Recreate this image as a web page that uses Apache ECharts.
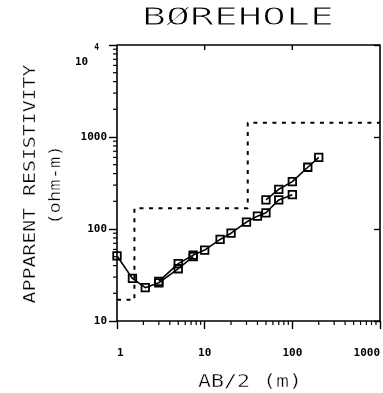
<!DOCTYPE html>
<html>
<head>
<meta charset="utf-8">
<script src="https://cdn.jsdelivr.net/npm/echarts@6/dist/echarts.min.js"></script>
<style>
  html, body { margin: 0; padding: 0; background: #fff; }
  #chart { width: 383px; height: 393px; }
</style>
</head>
<body>
<div id="chart"></div>
<script>
// Field sounding, apparent resistivity vs electrode half-spacing AB/2.
// Overlapping segments of the sounding curve.
const AB2_SEG1 = [1, 1.5, 2.1, 3, 5, 7.4];
const RHO_SEG1 = [51, 29, 23, 26, 37, 50];
const AB2_SEG2 = [3, 5, 7.4, 10, 15, 20, 30, 40, 50, 70, 100];
const RHO_SEG2 = [27, 42, 52, 59, 77, 90, 119, 138, 150, 207, 236];
const AB2_SEG3 = [50, 70, 100, 150, 200];
const RHO_SEG3 = [207, 270, 327, 469, 600];

// Layered-earth model (step curve): layer boundaries and resistivities.
const MODEL_AB2 = [1, 1.58, 1.58, 31, 31, 1000];
const MODEL_RHO = [17, 17, 168, 168, 1430, 1430];

// Axis ranges, decade ticks on the top edge and minor (log) tick positions.
const X_RANGE = [1, 1000];
const Y_RANGE = [10, 10000];
const X_TOP_TICKS = [10, 100];
const X_MINOR = [2, 3, 4, 5, 6, 7, 8, 9, 20, 30, 40, 50, 60, 70, 80, 90, 200, 300, 400, 500, 600, 700, 800, 900];
const Y_MINOR = [20, 30, 40, 50, 60, 70, 80, 90, 200, 300, 400, 500, 600, 700, 800, 900, 2000, 3000, 4000, 5000, 6000, 7000, 8000, 9000];

const TITLE = 'BØREHOLE';
const Y_NAME = 'APPARENT RESISTIVITY';
const Y_UNIT = '(ohm-m)';
const X_NAME = 'AB/2 (m)';

const MONO = '"DejaVu Sans Mono", monospace';
const INK = '#000';

const zip = (xs, ys) => xs.map((x, i) => [x, ys[i]]);

const labelStyle = { fontFamily: MONO, fontWeight: 'bold', fontSize: 11, color: INK };

function soundingSeries(xs, ys) {
  return {
    type: 'line',
    data: zip(xs, ys),
    symbol: 'rect',
    symbolSize: 7.5,
    showAllSymbol: true,
    lineStyle: { color: INK, width: 1.6 },
    itemStyle: { color: 'rgba(0,0,0,0)', borderColor: INK, borderWidth: 1.8 },
    emphasis: { disabled: true },
    silent: true,
    z: 4
  };
}

function minorTicks(values, axis) {
  return {
    type: 'custom',
    silent: true,
    clip: false,
    data: values.map(v => axis === 'x' ? [v, Y_RANGE[0]] : [X_RANGE[0], v]),
    renderItem(params, api) {
      const p = api.coord([api.value(0), api.value(1)]);
      const shape = axis === 'x'
        ? { x1: p[0], y1: p[1], x2: p[0], y2: p[1] + 4 }
        : { x1: p[0], y1: p[1], x2: p[0] - 4, y2: p[1] };
      return { type: 'line', shape, style: { stroke: INK, lineWidth: 1.2 } };
    },
    z: 3
  };
}

// Top edge of the frame plus its inward decade ticks.
function topFrame() {
  return {
    type: 'custom',
    silent: true,
    clip: false,
    data: [[X_RANGE[0], Y_RANGE[1]]],
    renderItem(params, api) {
      const a = api.coord([X_RANGE[0], Y_RANGE[1]]);
      const b = api.coord([X_RANGE[1], Y_RANGE[1]]);
      const children = [{
        type: 'line',
        shape: { x1: a[0], y1: a[1], x2: b[0], y2: b[1] },
        style: { stroke: INK, lineWidth: 1.6 }
      }];
      X_TOP_TICKS.forEach(v => {
        const p = api.coord([v, Y_RANGE[1]]);
        children.push({
          type: 'line',
          shape: { x1: p[0], y1: p[1], x2: p[0], y2: p[1] + 5 },
          style: { stroke: INK, lineWidth: 1.4 }
        });
      });
      return { type: 'group', children };
    },
    z: 30
  };
}

// Stretched monospace text. When trim > 0 a white outline is laid over
// the glyphs (drawn right after them) to give a thin, plotter-pen weight.
function textEls(text, x, y, size, scaleX, rotation, trim) {
  const base = {
    type: 'text', x, y, rotation: rotation || 0, scaleX, silent: true
  };
  const font = size + 'px ' + MONO;
  const els = [Object.assign({}, base, {
    style: { text, font, fill: INK, align: 'center', verticalAlign: 'middle' }
  })];
  if (trim > 0) {
    els.push(Object.assign({}, base, {
      style: { text, font, fill: 'rgba(255,255,255,0)', stroke: '#fff', lineWidth: trim, align: 'center', verticalAlign: 'middle' }
    }));
  }
  return els;
}

const chart = echarts.init(document.getElementById('chart'), null, { renderer: 'canvas' });

const axisLineStyle = { color: INK, width: 1.6 };

chart.setOption({
  animation: false,
  backgroundColor: '#fff',
  grid: { left: 117, top: 45, width: 270, height: 276, containLabel: false },
  xAxis: [
    {
      type: 'log', logBase: 10, min: X_RANGE[0], max: X_RANGE[1], position: 'bottom',
      axisLine: { show: true, onZero: false, lineStyle: axisLineStyle },
      axisTick: { show: true, inside: false, length: 8, lineStyle: { color: INK, width: 1.4 } },
      axisLabel: Object.assign({
        margin: 27, alignMinLabel: 'left', alignMaxLabel: 'right',
        formatter: v => String(Math.round(v))
      }, labelStyle),
      splitLine: { show: false }
    }
  ],
  yAxis: [
    {
      type: 'log', logBase: 10, min: Y_RANGE[0], max: Y_RANGE[1], position: 'left',
      axisLine: { show: true, onZero: false, lineStyle: axisLineStyle },
      axisTick: { show: true, inside: false, length: 8, lineStyle: { color: INK, width: 1.4 } },
      axisLabel: {
        margin: 10,
        formatter: v => {
          const n = Math.round(v);
          return n >= 10000 ? '{e|10}{s|4}' : '{n|' + n + '}';
        },
        rich: {
          n: labelStyle,
          e: Object.assign({ padding: [34, 0, 0, 0] }, labelStyle),
          s: Object.assign({}, labelStyle, { fontSize: 8, verticalAlign: 'top', padding: [21, 8, 0, 6] })
        }
      },
      splitLine: { show: false }
    },
    {
      type: 'log', logBase: 10, min: Y_RANGE[0], max: Y_RANGE[1], position: 'right',
      axisLine: { show: true, onZero: false, lineStyle: axisLineStyle },
      axisTick: { show: true, inside: true, length: 6, lineStyle: { color: INK, width: 1.4 } },
      axisLabel: { show: false },
      splitLine: { show: false }
    }
  ],
  series: [
    {
      type: 'line',
      data: zip(MODEL_AB2, MODEL_RHO),
      symbol: 'none',
      lineStyle: { color: INK, width: 2, type: [4, 5.5] },
      emphasis: { disabled: true },
      silent: true,
      z: 2
    },
    soundingSeries(AB2_SEG1, RHO_SEG1),
    soundingSeries(AB2_SEG2, RHO_SEG2),
    soundingSeries(AB2_SEG3, RHO_SEG3),
    minorTicks(X_MINOR, 'x'),
    minorTicks(Y_MINOR, 'y'),
    topFrame()
  ],
  graphic: [].concat(
    textEls(TITLE, 238, 19, 24, 1.66, 0, 0.8),
    textEls(Y_NAME, 31, 184, 16, 1.24, Math.PI / 2, 0.3),
    textEls(Y_UNIT, 56, 185, 15, 1.26, Math.PI / 2, 0.3),
    textEls(X_NAME, 250, 382, 18, 1.2, 0, 0.4)
  )
});
</script>
</body>
</html>
